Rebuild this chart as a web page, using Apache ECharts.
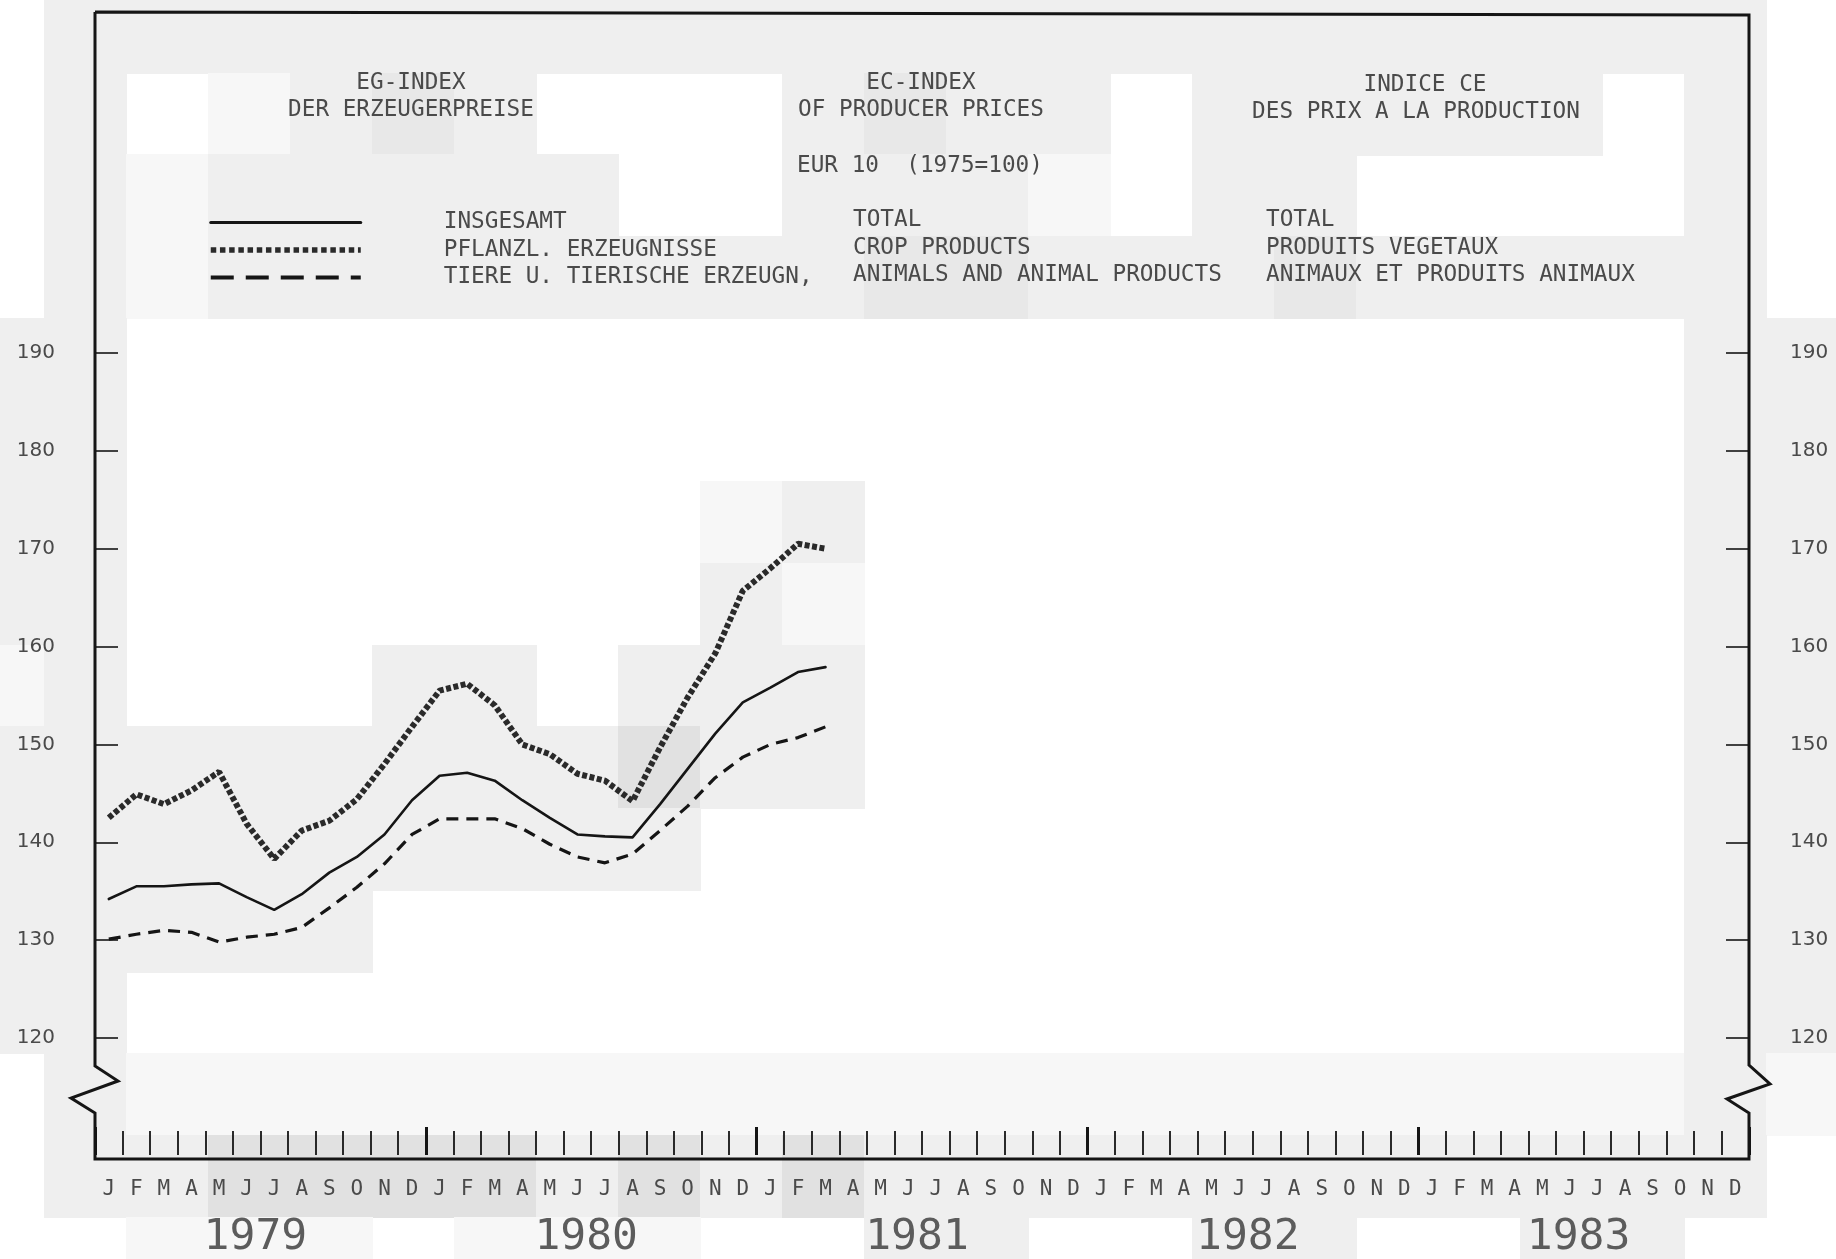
<!DOCTYPE html>
<html>
<head>
<meta charset="utf-8">
<title>EG-Index der Erzeugerpreise</title>
<script src="https://cdn.jsdelivr.net/npm/echarts@6/dist/echarts.min.js"></script>
<style>
  html, body { margin: 0; padding: 0; background: #fff; }
  #main { width: 1836px; height: 1259px; }
</style>
</head>
<body>
<div id="main"></div>
<script>
// EUR 10, 1975 = 100 -- monthly values Jan 1979 .. Mar 1981
const monthLetters = ['J', 'F', 'M', 'A', 'M', 'J', 'J', 'A', 'S', 'O', 'N', 'D'];
const years = ['1979', '1980', '1981', '1982', '1983'];

const namesDE = ['INSGESAMT', 'PFLANZL. ERZEUGNISSE', 'TIERE U. TIERISCHE ERZEUGN,'];
const namesEN = ['TOTAL', 'CROP PRODUCTS', 'ANIMALS AND ANIMAL PRODUCTS'];
const namesFR = ['TOTAL', 'PRODUITS VEGETAUX', 'ANIMAUX ET PRODUITS ANIMAUX'];

const total = [134.2, 135.5, 135.5, 135.7, 135.8, 134.4, 133.1, 134.7, 136.9, 138.5, 140.8, 144.3,
               146.8, 147.1, 146.3, 144.3, 142.5, 140.8, 140.6, 140.5, 143.9, 147.5, 151.1, 154.3,
               155.8, 157.4, 157.9];
const crop = [142.5, 144.9, 143.9, 145.3, 147.2, 141.9, 138.3, 141.2, 142.2, 144.4, 148.0, 151.8,
              155.5, 156.2, 154.0, 150.0, 149.0, 147.0, 146.3, 144.2, 149.7, 154.8, 159.3, 165.7,
              168.0, 170.5, 170.0];
const animal = [130.1, 130.6, 131.0, 130.8, 129.8, 130.3, 130.6, 131.3, 133.3, 135.4, 137.8, 140.8,
                142.4, 142.4, 142.4, 141.4, 139.8, 138.5, 137.9, 138.8, 141.2, 143.7, 146.6, 148.7,
                150.0, 150.7, 151.8];

// one category per month, Jan 1979 .. Dec 1983
const monthCats = years.flatMap(y => monthLetters.map((m, i) => y + '-' + (i + 1)));

const MONO = '"DejaVu Sans Mono", monospace';
const INK = '#151515';
const TEXT = '#4a4a4a';

const styleTotal = { color: INK, width: 2.6, type: 'solid', cap: 'round', join: 'round' };
const styleCrop = { color: '#2a2a2a', width: 6, type: [5, 2.5] };
const styleAnimal = { color: INK, width: 3.2, type: [12, 8] };
// the legend samples are drawn a little coarser than the curves
const legendLines = [
  { width: 3 },
  { width: 5.5, type: [5.5, 3.7] },
  { width: 4, type: [23, 12] }
];

// scanned paper: blotchy grey blocks behind the drawing
const shade = { W: '#ffffff', l: '#f7f7f7', g: '#efefef', m: '#e8e8e8', d: '#e1e1e1' };
const W = n => 'W'.repeat(n);
const scanRows = [
  'W' + 'g'.repeat(21) + 'W',
  'WgWlgmgWWWgmggWgggggWgW',
  'WglgggggWWggglWggWWWWgW',
  'Wgl' + 'gggggggg' + 'mm' + 'ggg' + 'm' + 'ggggg' + 'W',
  'gg' + W(19) + 'gg',
  'gg' + W(19) + 'gg',
  'gg' + W(7) + 'lg' + W(10) + 'gg',
  'gg' + W(7) + 'gl' + W(10) + 'gg',
  'lgWWWggWggg' + W(10) + 'gg',
  'gggggggg' + 'd' + 'gg' + W(10) + 'gg',
  'ggggggggg' + W(12) + 'gg',
  'ggggg' + W(16) + 'gg',
  'gg' + W(19) + 'gg',
  'Wg' + 'l'.repeat(19) + 'gl',
  'Wgg' + 'dddd' + 'g' + 'd' + 'g' + 'd' + 'g'.repeat(11) + 'W',
  'WW' + 'lll' + 'W' + 'lll' + 'WW' + 'gg' + 'WW' + 'gg' + 'WW' + 'gg' + 'WW'
];
const cellW = 82, cellH = 81.7, cellX0 = -38, cellY0 = -9;

const paper = [];
scanRows.forEach((row, r) => {
  row.split('').forEach((c, j) => {
    if (c === 'W') return;
    paper.push({
      type: 'rect', silent: true, z: -10,
      shape: { x: Math.round(cellX0 + j * cellW), y: Math.round(cellY0 + r * cellH),
               width: cellW + 1, height: Math.ceil(cellH) + 1 },
      style: { fill: shade[c] }
    });
  });
});

// frame with the scale break on both sides
const frame = {
  type: 'polyline', silent: true, z: 20,
  shape: { points: [[95, 12], [1749, 15], [1749, 1065], [1770, 1084], [1727, 1099], [1749, 1113],
                    [1749, 1159], [95, 1159], [95, 1113], [71, 1098], [118, 1081], [95, 1066], [95, 12]] },
  style: { stroke: INK, lineWidth: 3, fill: null }
};

function label(text, x, y, align) {
  return {
    type: 'text', silent: true, z: 20, x: x, y: y,
    style: { text: text, fill: TEXT, fontFamily: MONO, fontSize: 22.7,
             align: align || 'center', verticalAlign: 'middle' }
  };
}

const texts = [
  label('EG-INDEX', 411, 83.5), label('DER ERZEUGERPREISE', 411, 110.5),
  label('EC-INDEX', 921, 83.5), label('OF PRODUCER PRICES', 921, 110.5),
  label('INDICE CE', 1425, 85.5), label('DES PRIX A LA PRODUCTION', 1416, 112.5),
  label('EUR 10  (1975=100)', 797, 166.5, 'left')
];
const rowY = [220.5, 248, 275.5];
namesEN.forEach((t, i) => texts.push(label(t, 853, rowY[i], 'left')));
namesFR.forEach((t, i) => texts.push(label(t, 1266, rowY[i], 'left')));

function valueAxis(pos, margin) {
  return {
    type: 'value', position: pos, min: 120, max: 190, interval: 10,
    axisLine: { show: false },
    axisTick: { show: true, inside: true, length: 23, lineStyle: { color: INK, width: 1.6 } },
    axisLabel: { margin: margin, fontFamily: '"DejaVu Sans", sans-serif', fontSize: 20, color: TEXT,
                 padding: [0, 0, 6, 0] },
    splitLine: { show: false }
  };
}

const chart = echarts.init(document.getElementById('main'));
chart.setOption({
  animation: false,
  backgroundColor: 'transparent',
  grid: { left: 95, right: 87, top: 353, bottom: 217 },
  legend: {
    data: namesDE.map((n, i) => ({ name: n, lineStyle: legendLines[i] })),
    orient: 'vertical', left: 208, top: 211, padding: 0,
    itemWidth: 150, itemHeight: 12, itemGap: 4.5, selectedMode: false,
    itemStyle: { opacity: 0 },
    textStyle: { fontFamily: MONO, fontSize: 22.7, color: TEXT, padding: [0, 0, 0, 78] }
  },
  xAxis: [
    {
      type: 'category', data: monthCats, boundaryGap: true, position: 'bottom', offset: 117,
      axisLine: { show: false },
      axisTick: { show: true, inside: true, interval: 0, length: 24, lineStyle: { color: INK, width: 1.8 } },
      axisLabel: {
        interval: 0, margin: 24, fontFamily: MONO, fontSize: 21, color: TEXT,
        formatter: v => monthLetters[+v.split('-')[1] - 1]
      },
      splitLine: { show: false }
    },
    {
      type: 'category', data: years, boundaryGap: true, position: 'bottom', offset: 117,
      axisLine: { show: false },
      axisTick: { show: true, inside: true, length: 28, lineStyle: { color: INK, width: 3 } },
      axisLabel: { margin: 61, fontFamily: MONO, fontSize: 43, color: '#5c5c5c', padding: [0, 10, 0, 0] },
      splitLine: { show: false }
    }
  ],
  yAxis: [valueAxis('left', 40), valueAxis('right', 41)],
  series: [
    { name: namesDE[0], type: 'line', data: total, symbol: 'none', lineStyle: styleTotal, itemStyle: { color: INK }, z: 5 },
    { name: namesDE[1], type: 'line', data: crop, symbol: 'none', lineStyle: styleCrop, itemStyle: { color: '#2a2a2a' }, z: 4 },
    { name: namesDE[2], type: 'line', data: animal, symbol: 'none', lineStyle: styleAnimal, itemStyle: { color: INK }, z: 4 }
  ],
  graphic: { elements: paper.concat([frame], texts) }
});
</script>
</body>
</html>
